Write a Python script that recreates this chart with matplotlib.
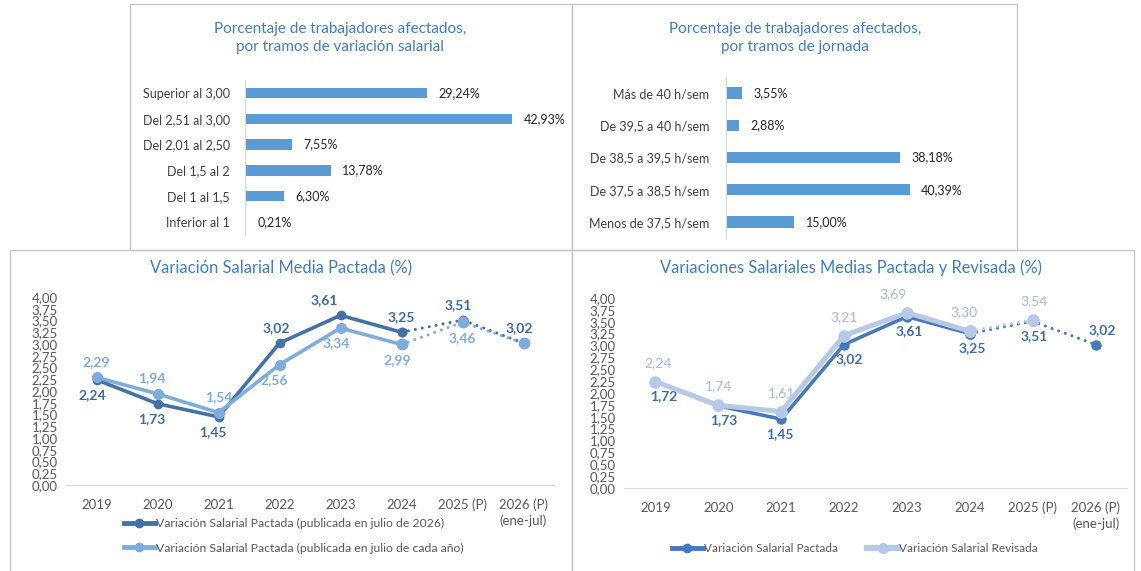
import matplotlib
matplotlib.use('Agg')
import matplotlib.pyplot as plt
from matplotlib.patches import Rectangle
from matplotlib.lines import Line2D

plt.rcParams['font.family'] = ['Lato', 'DejaVu Sans']

# ---------------- data ----------------
salary_bands = ["Superior al 3,00", "Del 2,51 al 3,00", "Del 2,01 al 2,50",
                "Del 1,5 al 2", "Del 1 al 1,5", "Inferior al 1"]
salary_pct = [29.24, 42.93, 7.55, 13.78, 6.30, 0.21]

hours_bands = ["Más de 40 h/sem", "De 39,5 a 40 h/sem", "De 38,5 a 39,5 h/sem",
               "De 37,5 a 38,5 h/sem", "Menos de 37,5 h/sem"]
hours_pct = [3.55, 2.88, 38.18, 40.39, 15.00]

years = ["2019", "2020", "2021", "2022", "2023", "2024", "2025 (P)", "2026 (P)\n(ene-jul)"]
pactada_jul2026 = [2.24, 1.73, 1.45, 3.02, 3.61, 3.25, 3.51, 3.02]
pactada_cada_anio = [2.29, 1.94, 1.54, 2.56, 3.34, 2.99, 3.46, 3.02]

pactada = [2.24, 1.73, 1.45, 3.02, 3.61, 3.25, 3.51, 3.02]
pactada_labels = ["1,72", "1,73", "1,45", "3,02", "3,61", "3,25", "3,51", "3,02"]
revisada = [2.24, 1.74, 1.61, 3.21, 3.69, 3.30, 3.54]

y_ticks = [i * 0.25 for i in range(17)]

# ---------------- style ----------------
W, H = 1141, 571
BAR = '#5B9BD5'
TITLE = '#3F7FC1'
TXT = '#404040'
TICK = '#595959'
GRID = '#D9D9D9'
BORDER = '#C8C8C8'
DARK_L = '#4472A6'
LIGHT_L = '#7EACDC'
DARK_R = '#4779B8'
LIGHT_R = '#B6CAE8'
DOT = (0, (0.01, 2.3))


def rect(x0, y0, x1, y1):
    return [x0 / W, 1 - y1 / H, (x1 - x0) / W, (y1 - y0) / H]


def fmt(v):
    return f"{v:.2f}".replace('.', ',')


fig = plt.figure(figsize=(W / 100, H / 100), dpi=100)

# background / frames
bg = fig.add_axes([0, 0, 1, 1])
bg.set_xlim(0, W)
bg.set_ylim(H, 0)
bg.axis('off')
for (x0, y0, x1, y1) in [(130, 4, 572, 250), (572, 4, 1017, 250),
                         (10, 250, 572, 575), (572, 250, 1134, 575)]:
    bg.add_patch(Rectangle((x0, y0), x1 - x0, y1 - y0, fill=False,
                           edgecolor=BORDER, lw=1.0))


# ---------------- bar charts ----------------
def bar_chart(box, cats, vals, xmax, height, pad):
    ax = fig.add_axes(rect(*box))
    pos = list(range(len(cats)))
    ax.barh(pos, vals, height=height, color=BAR)
    ax.set_ylim(len(cats) - 0.5, -0.5)
    ax.set_xlim(0, xmax)
    ax.set_yticks(pos)
    ax.set_yticklabels(cats, fontsize=9, color=TXT)
    ax.tick_params(axis='y', length=0, pad=pad)
    ax.set_xticks([])
    for s in ['top', 'right', 'bottom']:
        ax.spines[s].set_visible(False)
    ax.spines['left'].set_color(GRID)
    for p, v in zip(pos, vals):
        ax.annotate(fmt(v) + '%', (v, p), xytext=(8, 0), textcoords='offset points',
                    va='center', ha='left', fontsize=9, color='#262626')
    return ax


bar_chart((245, 80, 560, 235), salary_bands, salary_pct, 50.6, 0.4, 11)
bar_chart((726, 77, 1010, 238), hours_bands, hours_pct, 62.3, 0.35, 12)

bg.text(340, 38, "Porcentaje de trabajadores afectados,\npor tramos de variación salarial",
        ha='center', va='center', fontsize=11, color=TITLE, linespacing=1.45)
bg.text(795, 38, "Porcentaje de trabajadores afectados,\npor tramos de jornada",
        ha='center', va='center', fontsize=11, color=TITLE, linespacing=1.45)


# ---------------- line charts ----------------
def line_axes(box):
    ax = fig.add_axes(rect(*box))
    ax.set_xlim(-0.5, 7.5)
    ax.set_ylim(0, 4)
    ax.set_yticks(y_ticks)
    ax.set_yticklabels([fmt(t) for t in y_ticks], fontsize=9.5, color=TICK)
    ax.set_xticks(range(len(years)))
    ax.set_xticklabels(years, fontsize=9.5, color=TICK, va='top', linespacing=1.25)
    ax.tick_params(axis='both', length=0)
    ax.tick_params(axis='y', pad=6)
    ax.tick_params(axis='x', pad=10)
    for s in ['top', 'right', 'left']:
        ax.spines[s].set_visible(False)
    ax.spines['bottom'].set_color(GRID)
    return ax


def labels(ax, vals, texts, places, color, bold, off=11, dx=None, size=10):
    for i, (v, t, p) in enumerate(zip(vals, texts, places)):
        ddx = dx[i] if dx else 0
        dy = off if p == 'a' else -off
        ax.annotate(t, (i, v), xytext=(ddx, dy), textcoords='offset points',
                    ha='center', va='center', fontsize=size, color=color,
                    fontweight='bold' if bold else 'normal', annotation_clip=False)


# left line chart
axL = line_axes((66, 297, 554, 485))
xs = list(range(len(years)))
axL.plot(xs[:6], pactada_jul2026[:6], color=DARK_L, lw=2.6, marker='o', ms=6,
         zorder=3, solid_capstyle='round')
axL.plot(xs[5:], pactada_jul2026[5:], color=DARK_L, lw=2.2, ls=DOT, marker='o', ms=6,
         zorder=3, dash_capstyle='round')
axL.plot(xs[:6], pactada_cada_anio[:6], color=LIGHT_L, lw=2.6, marker='o', ms=7,
         zorder=4, solid_capstyle='round')
axL.plot(xs[5:], pactada_cada_anio[5:], color=LIGHT_L, lw=2.2, ls=DOT, marker='o', ms=7.5,
         zorder=4, dash_capstyle='round')
for ln in axL.lines:
    ln.set_clip_on(False)
labels(axL, pactada_jul2026, [fmt(v) for v in pactada_jul2026],
       ['b', 'b', 'b', 'a', 'a', 'a', 'a', 'a'], '#3D6C9F', True,
       dx=[-3, -4, -4, -2, -12, 0, -3, -3])
labels(axL, pactada_cada_anio[:7], [fmt(v) for v in pactada_cada_anio[:7]],
       ['a', 'a', 'a', 'b', 'b', 'b', 'b'], '#80ADDD', True,
       dx=[0, -4, 0, -4, -3, -3, 0])
bg.text(281, 268, "Variación Salarial Media Pactada (%)", ha='center', va='center',
        fontsize=11.9, color=TITLE)

hL1 = Line2D([], [], color=DARK_L, lw=3.5, marker='o', ms=6)
hL2 = Line2D([], [], color=LIGHT_L, lw=3.5, marker='o', ms=6)
legL = axL.legend([hL1, hL2],
                  ["Variación Salarial Pactada (publicada en julio de 2026)",
                   "Variación Salarial Pactada (publicada en julio de cada año)"],
                  loc='upper left', bbox_to_anchor=(124 / W, 1 - 518 / H),
                  bbox_transform=fig.transFigure, frameon=False, fontsize=8.8,
                  handlelength=2.5, handletextpad=0.1, labelspacing=1.1,
                  borderaxespad=0, borderpad=0)
for t in legL.get_texts():
    t.set_color(TICK)

# right line chart
axR = line_axes((624, 298, 1127, 488))
axR.plot(xs[:6], pactada[:6], color=DARK_R, lw=2.6, marker='o', ms=6.5, zorder=3,
         solid_capstyle='round')
axR.plot(xs[5:], pactada[5:], color=DARK_R, lw=2.2, ls=DOT, marker='o', ms=6.5, zorder=3,
         dash_capstyle='round')
axR.plot(xs[:6], revisada[:6], color=LIGHT_R, lw=3.6, marker='o', ms=8, zorder=4,
         solid_capstyle='round')
axR.plot(xs[5:7], revisada[5:7], color=LIGHT_R, lw=2.2, ls=DOT, marker='o', ms=8, zorder=4,
         dash_capstyle='round')
for ln in axR.lines:
    ln.set_clip_on(False)
labels(axR, pactada, pactada_labels,
       ['b', 'b', 'b', 'b', 'b', 'b', 'b', 'a'], '#3F6FA8', True, off=10.5,
       dx=[6, 4, -1, 4, 2, 2, 1, 5])
labels(axR, revisada, [fmt(v) for v in revisada],
       ['a', 'a', 'a', 'a', 'a', 'a', 'a'], '#A4BDE0', False, off=13.5,
       dx=[2, 0, 0, 0, -10, -4, 1])
bg.text(851, 268, "Variaciones Salariales Medias Pactada y Revisada (%)", ha='center',
        va='center', fontsize=11.9, color=TITLE)

hR1 = Line2D([], [], color=DARK_R, lw=3.5, marker='o', ms=6)
hR2 = Line2D([], [], color=LIGHT_R, lw=4.5, marker='o', ms=7)
legR = axR.legend([hR1, hR2], ["Variación Salarial Pactada", "Variación Salarial Revisada"],
                  loc='center left', bbox_to_anchor=(672 / W, 1 - 549 / H),
                  bbox_transform=fig.transFigure, frameon=False, fontsize=8.5, ncol=2,
                  handlelength=2.6, handletextpad=0.1, columnspacing=2.5,
                  borderaxespad=0, borderpad=0)
for t in legR.get_texts():
    t.set_color(TICK)

fig.savefig('out.png', dpi=100)
